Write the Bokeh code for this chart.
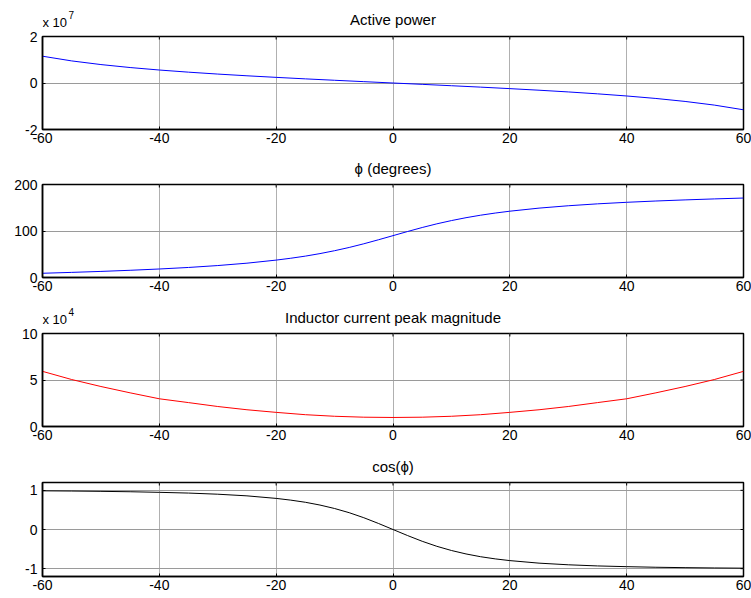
import math
from bokeh.plotting import figure
from bokeh.layouts import column
from bokeh.models import Range1d, FixedTicker, CustomJSTickFormatter
from bokeh.core.properties import value
from bokeh.embed import file_html
from bokeh.resources import INLINE

# ---- data ----
angle_coarse = [-60, -55, -50, -45, -40, -35, -30, -25, -20, -15, -10, -5, 0,
                5, 10, 15, 20, 25, 30, 35, 40, 45, 50, 55, 60]
angle_fine = [-60, -55, -50, -45, -40, -35, -30, -25, -20, -17.5, -15, -12.5, -10,
              -7.5, -5, -2.5, 0, 2.5, 5, 7.5, 10, 12.5, 15, 17.5, 20,
              25, 30, 35, 40, 45, 50, 55, 60]

# Active power, in units of 1e7
active_power = [1.152, 0.950, 0.793, 0.665, 0.558, 0.466, 0.384, 0.310, 0.242, 0.178, 0.117, 0.058, 0.0,
                -0.058, -0.117, -0.178, -0.242, -0.310, -0.384, -0.466, -0.558, -0.665, -0.793, -0.950, -1.152]
# phi in degrees
phi_deg = [9.1, 11.0, 13.1, 15.5, 18.3, 21.6, 25.7, 30.8, 37.4, 41.4, 46.0, 51.4, 57.6,
           64.6, 72.5, 81.1, 90.0, 98.9, 107.5, 115.4, 122.4, 128.6, 134.0, 138.6, 142.6,
           149.2, 154.3, 158.4, 161.7, 164.5, 166.9, 169.0, 170.9]
# Inductor current peak magnitude, in units of 1e4
inductor_current = [5.93, 5.05, 4.30, 3.62, 2.98, 2.57, 2.15, 1.80, 1.52, 1.27, 1.10, 1.00, 0.97,
                    1.00, 1.10, 1.27, 1.52, 1.80, 2.15, 2.57, 2.98, 3.62, 4.30, 5.05, 5.93]
# cos(phi)
cos_phi = [0.987, 0.982, 0.974, 0.964, 0.949, 0.930, 0.901, 0.859, 0.794, 0.750, 0.695, 0.624, 0.536,
           0.429, 0.301, 0.155, 0.0, -0.155, -0.301, -0.429, -0.536, -0.624, -0.695, -0.750, -0.794,
           -0.859, -0.901, -0.930, -0.949, -0.964, -0.974, -0.982, -0.987]

x_ticks = [-60, -40, -20, 0, 20, 40, 60]

FONT = "Liberation Sans"
TICK_SIZE = "14px"
TITLE_SIZE = "15px"
EXP_SIZE = "13px"
W = 751
FRAME_L = 42
FRAME_W = 701
FRAME_R = W - FRAME_L - FRAME_W


def header(height, title, title_y, exp=None, exp_y=None, sup_y=None):
    h = figure(output_backend="svg", toolbar_location=None,
               frame_width=FRAME_W, frame_height=height,
               min_border_left=FRAME_L, min_border_right=FRAME_R,
               min_border_top=0, min_border_bottom=0,
               x_range=Range1d(-60, 60), y_range=Range1d(0, height),
               x_axis_location=None, y_axis_location=None)
    h.grid.visible = False
    h.outline_line_color = None
    h.background_fill_color = "white"
    h.border_fill_color = "white"
    h.text(x=[0], y=[title_y], text=[title], text_align="center",
           text_baseline="middle", text_font=value(FONT),
           text_font_size=TITLE_SIZE, text_color="black")
    if exp is not None:
        h.text(x=[-60], y=[exp_y], text=["x 10"], text_align="left",
               text_baseline="middle", text_font=value(FONT),
               text_font_size=EXP_SIZE, text_color="black")
        h.text(x=[-60], y=[sup_y], x_offset=26, text=[exp], text_align="left",
               text_baseline="middle", text_font=value(FONT),
               text_font_size="10px", text_color="black")
    return h


def panel(xs, ys, color, y_lo, y_hi, y_ticks, fh, top, bottom):
    p = figure(output_backend="svg", toolbar_location=None,
               frame_width=FRAME_W, frame_height=fh,
               min_border_left=FRAME_L, min_border_right=FRAME_R,
               min_border_top=top, min_border_bottom=bottom,
               x_range=Range1d(-60, 60), y_range=Range1d(y_lo, y_hi))
    p.background_fill_color = "white"
    p.border_fill_color = "white"
    p.outline_line_color = "black"
    p.outline_line_width = 1.5

    p.xgrid.ticker = FixedTicker(ticks=x_ticks)
    p.ygrid.ticker = FixedTicker(ticks=y_ticks)
    p.xgrid.grid_line_color = "#b0b0b0"
    p.ygrid.grid_line_color = "#9a9a9a"

    p.line(xs, ys, line_color=color, line_width=1)

    # inward tick marks on the top and right edges of the box
    p.scatter(x=x_ticks, y=[y_hi] * len(x_ticks), marker="dash", size=6,
              angle=math.pi / 2, line_color="black", line_width=1)
    p.scatter(x=[60] * len(y_ticks), y=y_ticks, marker="dash", size=6,
              line_color="black", line_width=1)

    fmt = CustomJSTickFormatter(code="return tick.toString();")
    for ax in (p.xaxis[0], p.yaxis[0]):
        ax.major_tick_in = 3
        ax.major_tick_out = 0
        ax.minor_tick_line_color = None
        ax.axis_line_color = "black"
        ax.axis_line_width = 1.5
        ax.major_tick_line_color = "black"
        ax.major_label_text_font = FONT
        ax.major_label_text_font_size = TICK_SIZE
        ax.major_label_text_color = "black"
        ax.formatter = fmt
    p.xaxis[0].ticker = FixedTicker(ticks=x_ticks)
    p.yaxis[0].ticker = FixedTicker(ticks=y_ticks)
    p.xaxis[0].major_label_standoff = 3
    p.yaxis[0].major_label_standoff = 5
    return p


# figure 1: header 0-29, panel border 29-36, frame 36-129, bottom 129-149
h1 = header(29, "Active power", 10.25, exp="7", exp_y=7.5, sup_y=15)
p1 = panel(angle_coarse, active_power, "blue", -2, 2, [-2, 0, 2], 93, 7, 20)
# figure 2: header 149-177, border 177-184, frame 184-277, bottom 277-297
h2 = header(28, "\u03d5 (degrees)", 9.25)
p2 = panel(angle_fine, phi_deg, "blue", 0, 200, [0, 100, 200], 93, 7, 20)
# figure 3: header 297-326, border 326-333, frame 333-426, bottom 426-446
h3 = header(29, "Inductor current peak magnitude", 9.5, exp="4", exp_y=7.5, sup_y=14.3)
p3 = panel(angle_coarse, inductor_current, "red", 0, 10, [0, 5, 10], 93, 7, 20)
# figure 4: header 446-475, border 475-482, frame 482-576, bottom 576-598
h4 = header(29, "cos(\u03d5)", 9.5)
p4 = panel(angle_fine, cos_phi, "black", -1.2, 1.2, [-1, 0, 1], 94, 7, 22)

layout = column(h1, p1, h2, p2, h3, p3, h4, p4, spacing=0)
open("out.html", "w").write(file_html(layout, INLINE))
